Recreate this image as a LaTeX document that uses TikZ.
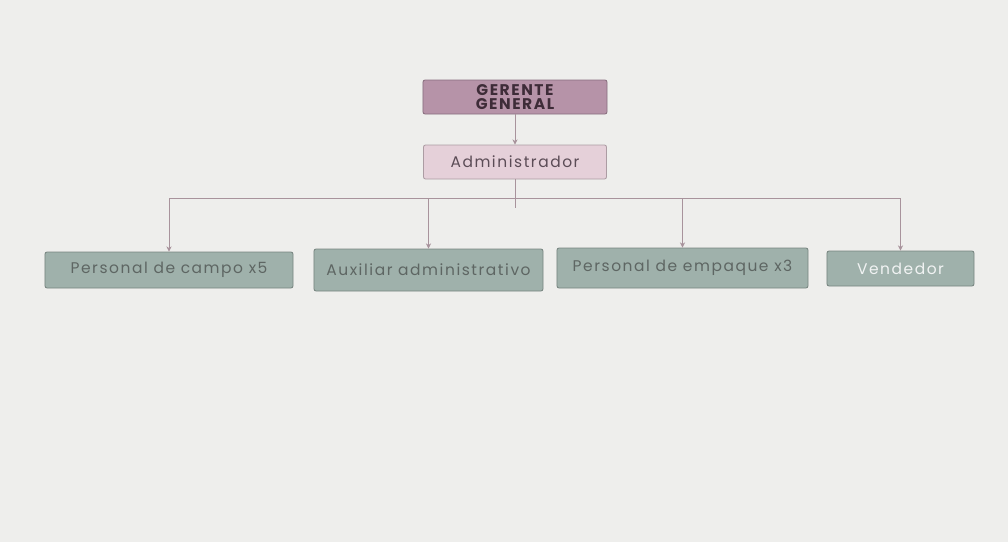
\documentclass[tikz,border=0pt]{standalone}
\usepackage{fontspec}
\setmainfont{Poppins}[LetterSpace=10]
\usetikzlibrary{arrows.meta, positioning}
\definecolor{cbg}{HTML}{EEEEEC}
\definecolor{cmauve}{HTML}{B693A8}
\definecolor{cpink}{HTML}{E5D0D9}
\definecolor{csage}{HTML}{9FB1AB}
\definecolor{cline}{HTML}{A8939C}
\definecolor{cdark}{HTML}{3E2C38}
\definecolor{cgreytext}{HTML}{5E6663}
\tikzset{
  every picture/.style={line width=0.7pt},
  box/.style={draw=#1!75!black, fill=#1, rounded corners=1.5pt, align=center, inner sep=2pt, line width=0.6pt},
  box/.default=csage,
  arrow/.style={-{Stealth[length=1.3mm, width=1.3mm]}, draw=cline, line width=0.7pt},
  link/.style={draw=cline, line width=0.7pt},
}

\begin{document}
\begin{tikzpicture}[x=0.025cm, y=-0.025cm,
  boss/.style={box=cmauve, font=\bfseries\fontsize{11}{10}\selectfont, text=cdark, minimum width=4.6cm, minimum height=0.85cm},
  unit/.style={box, font=\fontsize{11}{12}\selectfont, text=cgreytext}]
  \fill[cbg] (0,0) rectangle (1008,542);
  \node[boss] (gg) at (515,97) {GERENTE\\GENERAL};
  \node[box=cpink, font=\fontsize{11}{12}\selectfont, text=cdark!85, minimum width=4.575cm, minimum height=0.85cm] (adm) at (515,162) {Administrador};
  \node[unit, minimum width=6.2cm, minimum height=0.9cm] (campo) at (169,270) {Personal de campo x5};
  \node[unit, minimum width=5.725cm, minimum height=1.05cm] (aux) at (428.5,270) {Auxiliar administrativo};
  \node[unit, minimum width=6.275cm, minimum height=1.0cm] (emp) at (682.5,268) {Personal de empaque x3};
  \node[unit, text=white!85!csage, minimum width=3.675cm, minimum height=0.875cm] (ven) at (900.5,268.5) {Vendedor};
  \coordinate (bus) at (515,198);
  \coordinate (stub) at (515,208);
  \draw[arrow] (gg) -- (adm);
  \draw[link] (adm) -- (stub);
  \draw[link] (bus -| campo) -- (bus -| ven);
  \foreach \n in {campo, aux, emp, ven}
    \draw[arrow] (bus -| \n) -- (\n);
\end{tikzpicture}
\end{document}
